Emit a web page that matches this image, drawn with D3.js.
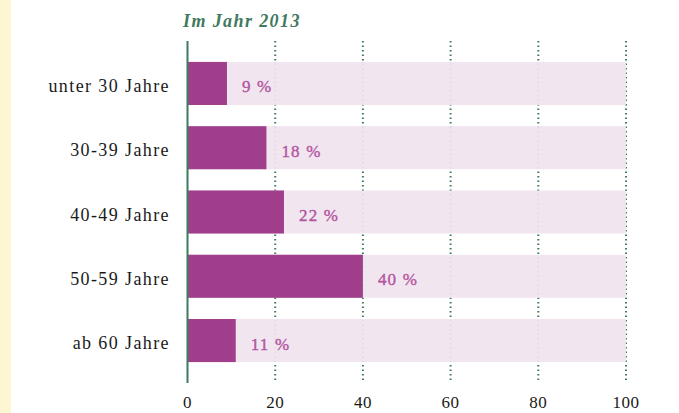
<!DOCTYPE html>
<html>
<head>
<meta charset="utf-8">
<script src="https://cdn.jsdelivr.net/npm/d3@7"></script>
<style>
  body { margin: 0; background: #fff; }
  svg { display: block; font-family: "Liberation Serif", "DejaVu Serif", serif; }
</style>
</head>
<body>
<div id="chart"></div>
<script>
// data
var categories = ["unter 30 Jahre", "30-39 Jahre", "40-49 Jahre", "50-59 Jahre", "ab 60 Jahre"];
var values = [9, 18, 22, 40, 11];
var ticks = [0, 20, 40, 60, 80, 100];
var title = "Im Jahr 2013";

var width = 679, height = 413;
var green = "#3f7a5e";

var svg = d3.select("#chart").append("svg")
  .attr("width", width)
  .attr("height", height);

// yellow stripe on the left
svg.append("rect")
  .attr("x", 0).attr("y", 0)
  .attr("width", 11).attr("height", height)
  .attr("fill", "#fdf6d2");

var x = d3.scaleLinear().domain([0, 100]).range([187.5, 626]);
var y = d3.scaleBand().domain(categories).range([51, 373]).paddingInner(0.33).paddingOuter(0.17);

// dotted grid lines
svg.selectAll(".grid")
  .data(ticks.slice(1))
  .enter()
  .append("line")
  .attr("class", "grid")
  .attr("x1", function (d) { return x(d); })
  .attr("x2", function (d) { return x(d); })
  .attr("y1", 41)
  .attr("y2", 383)
  .attr("stroke", green)
  .attr("stroke-width", 2)
  .attr("stroke-dasharray", "1.5,3");

// background bars
svg.selectAll(".bg")
  .data(categories)
  .enter()
  .append("rect")
  .attr("x", x(0))
  .attr("y", function (d) { return y(d); })
  .attr("width", x(100) - x(0))
  .attr("height", y.bandwidth())
  .attr("fill", "#f0e4ef")
  .attr("fill-opacity", 0.92);

// value bars
svg.selectAll(".bar")
  .data(values)
  .enter()
  .append("rect")
  .attr("x", x(0))
  .attr("y", function (d, i) { return y(categories[i]); })
  .attr("width", function (d) { return x(d) - x(0); })
  .attr("height", y.bandwidth())
  .attr("fill", "#a03e8c");

// value labels
svg.selectAll(".val")
  .data(values)
  .enter()
  .append("text")
  .attr("x", function (d) { return x(d) + 15; })
  .attr("y", function (d, i) { return y(categories[i]) + y.bandwidth() / 2 + 9; })
  .attr("fill", "#b356a0")
  .attr("stroke", "#b356a0")
  .attr("stroke-width", 0.4)
  .attr("font-size", 17)
  .attr("letter-spacing", 1.2)
  .text(function (d) { return d + " %"; });

// category labels
svg.selectAll(".cat")
  .data(categories)
  .enter()
  .append("text")
  .attr("x", 170)
  .attr("y", function (d) { return y(d) + y.bandwidth() / 2 + 8.5; })
  .attr("text-anchor", "end")
  .attr("fill", "#1a1a1a")
  .attr("font-size", 18)
  .attr("letter-spacing", 1.4)
  .text(function (d) { return d; });

// axis line
svg.append("line")
  .attr("x1", x(0)).attr("x2", x(0))
  .attr("y1", 41).attr("y2", 383)
  .attr("stroke", green)
  .attr("stroke-width", 2);

// tick labels
svg.selectAll(".tick")
  .data(ticks)
  .enter()
  .append("text")
  .attr("x", function (d) { return x(d); })
  .attr("y", 408)
  .attr("text-anchor", "middle")
  .attr("fill", "#1a1a1a")
  .attr("font-size", 17)
  .attr("letter-spacing", 0.5)
  .text(function (d) { return d; });

// title
svg.append("text")
  .attr("x", 183)
  .attr("y", 27)
  .attr("fill", green)
  .attr("font-size", 18)
  .attr("font-style", "italic")
  .attr("font-weight", "bold")
  .attr("letter-spacing", 1.4)
  .text(title);
</script>
</body>
</html>
